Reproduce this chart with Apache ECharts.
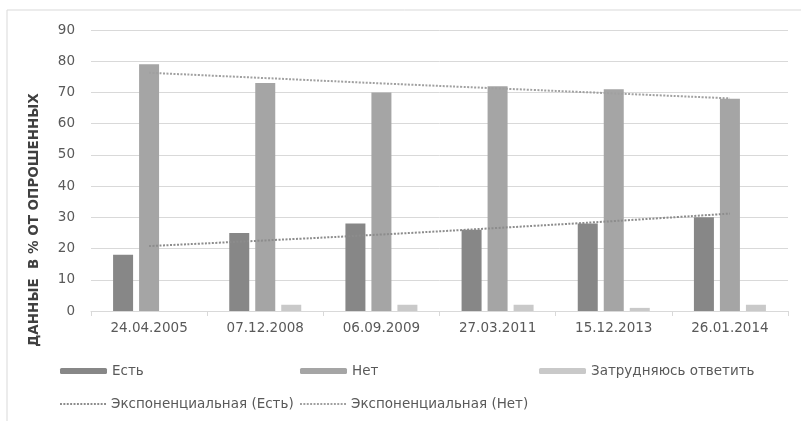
<!DOCTYPE html>
<html>
<head>
<meta charset="utf-8">
<script src="https://cdn.jsdelivr.net/npm/echarts@6/dist/echarts.min.js"></script>
<style>
	html, body { margin: 0; padding: 0; background: #fff; }
	#bar { width: 801px; height: 421px; }
</style>
</head>
<body>
<div id="bar"></div>
<script>
// survey dates
var dates = ['24.04.2005', '07.12.2008', '06.09.2009', '27.03.2011', '15.12.2013', '26.01.2014']
var yes = [18, 25, 28, 26, 28, 30]
var no = [79, 73, 70, 72, 71, 68]
var unsure = [0, 2, 2, 2, 1, 2]
// trend lines
var yesTrend = [20.8, 22.6, 24.5, 26.6, 28.8, 31.2]
var noTrend = [76.3, 74.6, 72.9, 71.3, 69.7, 68.1]
var yTicks = [0, 10, 20, 30, 40, 50, 60, 70, 80, 90]

var names = ['Есть', 'Нет', 'Затрудняюсь ответить', 'Экспоненциальная (Есть)', 'Экспоненциальная (Нет)']
var font = 'DejaVu Sans'
var txt = '#595959'

// dotted legend icon: row of small squares
var dots = ''
for (let k = 0; k < 14; k++) dots += 'M' + (k * 3.5) + ',0h2v2h-2z'

function chart() {
	let myChart = echarts.init(document.getElementById('bar'))
	let legendPos = [[55, 359], [295, 359], [534, 359], [55, 392], [295, 392]]
	let legends = []
	for (let i in names) {
		let isLine = i >= 3
		legends.push({
			data: [isLine ? { name: names[i], icon: 'path://' + dots } : names[i]],
			left: legendPos[i][0],
			top: legendPos[i][1],
			itemWidth: isLine ? 46 : 47,
			itemHeight: isLine ? 2 : 6,
			itemGap: 6,
			textStyle: { color: txt, fontSize: 13.5, fontFamily: font }
		})
	}
	let dotted = [2, 1.5]
	let option = {
		animation: false,
		backgroundColor: '#fff',
		color: ['#878787', '#a5a5a5', '#c9c9c9'],
		graphic: [
			{ type: 'rect', shape: { x: 7, y: 10, width: 820, height: 440 },
				style: { fill: 'none', stroke: '#d9d9d9', lineWidth: 1 } },
			{ type: 'text', x: 34, y: 220, rotation: Math.PI / 2,
				style: { text: 'ДАННЫЕ  В % ОТ ОПРОШЕННЫХ', fill: '#404040', font: 'bold 13.5px "DejaVu Sans"',
					align: 'center', verticalAlign: 'middle' } }
		],
		legend: legends,
		grid: { left: 91, right: 13, top: 30, bottom: 110 },
		xAxis: {
			type: 'category',
			data: dates,
			axisLine: { lineStyle: { color: '#d9d9d9' } },
			axisTick: { show: true, length: 5, lineStyle: { color: '#d9d9d9' } },
			axisLabel: { color: txt, fontSize: 13.5, fontFamily: font, margin: 10 }
		},
		yAxis: {
			type: 'value',
			min: yTicks[0],
			max: yTicks[yTicks.length - 1],
			interval: 10,
			axisLine: { show: false },
			axisTick: { show: false },
			axisLabel: { color: txt, fontSize: 13.5, fontFamily: font, margin: 16 },
			splitLine: { lineStyle: { color: '#d9d9d9' } }
		},
		series: [
			{ name: names[0], type: 'bar', barWidth: 20, barGap: '30%', data: yes },
			{ name: names[1], type: 'bar', barWidth: 20, barGap: '30%', data: no },
			{ name: names[2], type: 'bar', barWidth: 20, barGap: '30%', data: unsure },
			{ name: names[3], type: 'line', data: yesTrend, symbol: 'none', smooth: true, z: 3,
				itemStyle: { color: '#8c8c8c' },
				lineStyle: { color: '#8c8c8c', width: 2, type: dotted } },
			{ name: names[4], type: 'line', data: noTrend, symbol: 'none', smooth: true, z: 3,
				itemStyle: { color: '#a0a0a0' },
				lineStyle: { color: '#a0a0a0', width: 2, type: dotted } }
		]
	}
	myChart.setOption(option)
}
chart()
</script>
</body>
</html>
